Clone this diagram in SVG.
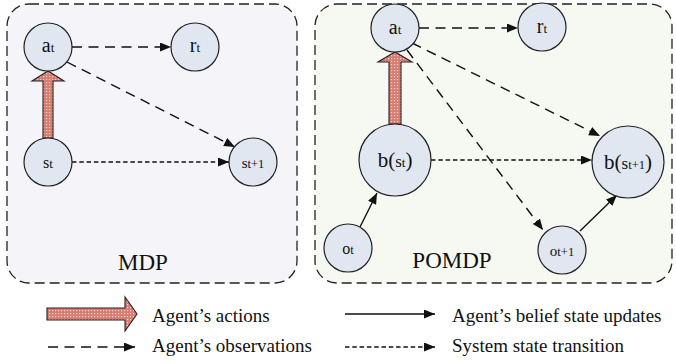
<svg xmlns="http://www.w3.org/2000/svg" width="676" height="364" viewBox="0 0 676 364">
<style>
.box{stroke:#222;stroke-width:1.3;stroke-dasharray:10 5;}
.node{fill:#e0e7f0;stroke:#222;stroke-width:1.2;}
.t{font-family:"Liberation Serif","Times New Roman",serif;fill:#111;}
.obs{fill:none;stroke:#111;stroke-width:1.4;stroke-dasharray:10 6.5;marker-end:url(#ah);}
.tr{fill:none;stroke:#111;stroke-width:1.4;stroke-dasharray:4.5 2.8;marker-end:url(#ah);}
.bel{fill:none;stroke:#111;stroke-width:1.4;marker-end:url(#ah);}
.act{fill:url(#dots);stroke:#222;stroke-width:1.1;}
</style>
<defs>
<marker id="ah" markerUnits="userSpaceOnUse" markerWidth="12" markerHeight="10" refX="11" refY="4.5" orient="auto">
<path d="M0,0 L11,4.5 L0,9 z" fill="#111"/>
</marker>
<pattern id="dots" patternUnits="userSpaceOnUse" width="3" height="3">
<rect width="3" height="3" fill="#da7b70"/>
<rect x="1" y="1" width="1.2" height="1.2" fill="#f6d6d0"/>
</pattern>
</defs>

<g id="mdp-box">
<rect x="7" y="4" width="290" height="279" rx="22" ry="22" fill="#f5f4f9" class="box"/>
<text class="t" x="143" y="270" font-size="23" text-anchor="middle">MDP</text>
</g>
<g id="pomdp-box">
<rect x="315" y="4" width="357" height="279" rx="22" ry="22" fill="#f6f8f2" class="box"/>
<text class="t" x="452" y="268" font-size="23" text-anchor="middle">POMDP</text>
</g>

<g id="connectors">
<line class="obs" x1="72" y1="47" x2="171" y2="47"/>
<line class="obs" x1="67" y1="62" x2="235" y2="147"/>
<line class="tr" x1="72" y1="162" x2="229" y2="162"/>
<path class="act" d="M43,138 L43,81 L32,81 L48,71 L64,81 L53,81 L53,138 Z"/>

<line class="obs" x1="419" y1="28" x2="518" y2="28"/>
<line class="obs" x1="412" y1="43" x2="600" y2="136"/>
<line class="obs" x1="407" y1="50" x2="543" y2="230"/>
<line class="tr" x1="431" y1="160" x2="592" y2="160"/>
<line class="bel" x1="360" y1="227" x2="377" y2="193"/>
<line class="bel" x1="580" y1="231" x2="617" y2="195"/>
<path class="act" d="M389,124 L389,62 L378,62 L395,52 L412,62 L401,62 L401,124 Z"/>
</g>

<g id="mdp-a">
<circle class="node" cx="48" cy="47" r="24"/>
<text class="t" x="48" y="52" text-anchor="middle"><tspan font-size="20">a</tspan><tspan font-size="13">t</tspan></text>
</g>
<g id="mdp-r">
<circle class="node" cx="195" cy="47" r="24"/>
<text class="t" x="195" y="52" text-anchor="middle"><tspan font-size="20">r</tspan><tspan font-size="13">t</tspan></text>
</g>
<g id="mdp-s">
<circle class="node" cx="48" cy="162" r="24"/>
<text class="t" x="48" y="168" text-anchor="middle"><tspan font-size="16">s</tspan><tspan font-size="13">t</tspan></text>
</g>
<g id="mdp-s1">
<circle class="node" cx="253" cy="162" r="24"/>
<text class="t" x="253" y="168" text-anchor="middle"><tspan font-size="15">s</tspan><tspan font-size="12.5">t+1</tspan></text>
</g>

<g id="pomdp-a">
<circle class="node" cx="395" cy="28" r="24"/>
<text class="t" x="395" y="34" text-anchor="middle"><tspan font-size="20">a</tspan><tspan font-size="13">t</tspan></text>
</g>
<g id="pomdp-r">
<circle class="node" cx="542" cy="27" r="24"/>
<text class="t" x="542" y="33" text-anchor="middle"><tspan font-size="20">r</tspan><tspan font-size="13">t</tspan></text>
</g>
<g id="pomdp-b">
<circle class="node" cx="395" cy="160" r="36"/>
<text class="t" x="395" y="167" text-anchor="middle"><tspan font-size="21">b(</tspan><tspan font-size="17">s</tspan><tspan font-size="13">t</tspan><tspan font-size="21">)</tspan></text>
</g>
<g id="pomdp-b1">
<circle class="node" cx="628" cy="162" r="36"/>
<text class="t" x="628" y="169" text-anchor="middle"><tspan font-size="21">b(</tspan><tspan font-size="17">s</tspan><tspan font-size="12.5">t+1</tspan><tspan font-size="21">)</tspan></text>
</g>
<g id="pomdp-o">
<circle class="node" cx="348" cy="248" r="24"/>
<text class="t" x="348" y="254" text-anchor="middle"><tspan font-size="16">o</tspan><tspan font-size="12.5">t</tspan></text>
</g>
<g id="pomdp-o1">
<circle class="node" cx="562" cy="250" r="24"/>
<text class="t" x="562" y="256" text-anchor="middle"><tspan font-size="15">o</tspan><tspan font-size="12.5">t+1</tspan></text>
</g>

<g id="legend">
<path class="act" d="M47,308 L125,308 L125,297 L137,314 L125,331 L125,320 L47,320 Z"/>
<text class="t" x="152" y="322" font-size="19">Agent’s actions</text>
<line class="obs" x1="48" y1="347" x2="135" y2="347"/>
<text class="t" x="152" y="352" font-size="19">Agent’s observations</text>
<line class="bel" x1="345" y1="314" x2="435" y2="314"/>
<text class="t" x="452" y="322" font-size="19">Agent’s belief state updates</text>
<line class="tr" x1="345" y1="347" x2="435" y2="347"/>
<text class="t" x="452" y="352" font-size="19">System state transition</text>
</g>
</svg>
